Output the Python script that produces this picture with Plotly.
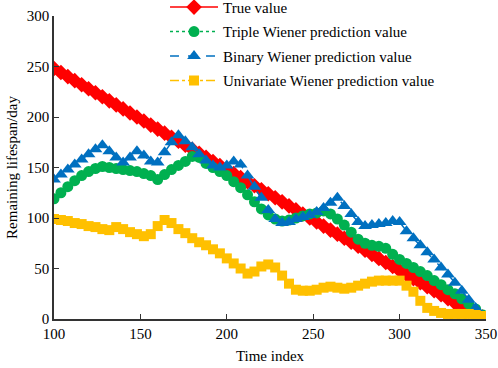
import plotly.graph_objects as go

time_index = [100, 104, 108, 112, 116, 120, 124, 128, 132, 136, 140, 144, 148, 152, 156, 160,
              164, 168, 172, 176, 180, 184, 188, 192, 196, 200, 204, 208, 212, 216, 220, 224,
              228, 232, 236, 240, 244, 248, 252, 256, 260, 264, 268, 272, 276, 280, 284, 288,
              292, 296, 300, 304, 308, 312, 316, 320, 324, 328, 332, 336, 340, 344, 348]

true_value = [248, 244, 240, 236, 232, 228, 224, 220, 216, 212, 208, 204, 200, 196, 192, 188,
              184, 180, 176, 172, 168, 164, 160, 156, 152, 148, 144, 140, 136, 132, 128, 124,
              120, 116, 112, 108, 104, 100, 96, 92, 88, 84, 80, 76, 72, 68, 64, 60,
              56, 52, 48, 44, 40, 36, 32, 28, 24, 20, 16, 12, 8, 4, 2]

triple_wiener = [119, 125, 131, 137, 142, 146, 149, 151, 150, 149, 148, 147, 146, 144, 142, 138,
                 143, 148, 152, 156, 161, 160, 154, 150, 146, 142, 136, 130, 123, 116, 109, 103,
                 99, 97, 98, 100, 102, 104, 105, 107, 104, 99, 93, 86, 79, 75, 73, 72,
                 70, 64, 59, 55, 51, 47, 43, 38, 34, 29, 25, 20, 15, 10, 4]

binary_wiener = [138, 143, 148, 153, 158, 163, 168, 172, 166, 160, 155, 160, 166, 162, 156, 155,
                 165, 175, 182, 176, 170, 163, 157, 152, 150, 152, 156, 153, 142, 131, 120, 108,
                 99, 95, 96, 99, 101, 103, 106, 110, 115, 120, 112, 104, 96, 92, 93, 94,
                 95, 97, 96, 87, 80, 73, 66, 59, 51, 44, 36, 28, 19, 11, 3]

univariate_wiener = [99, 98, 97, 95, 94, 92, 91, 89, 88, 91, 89, 86, 84, 82, 84, 92,
                     98, 95, 89, 85, 80, 76, 73, 69, 65, 60, 55, 50, 45, 47, 52, 54,
                     51, 43, 35, 29, 28, 28, 29, 31, 32, 31, 30, 31, 33, 35, 37, 38,
                     38, 38, 38, 33, 27, 18, 11, 8, 6, 5, 5, 5, 5, 4, 3]

series_names = ["True value", "Triple Wiener prediction value",
                "Binary Wiener prediction value", "Univariate Wiener prediction value"]

FONT = "Liberation Serif"

fig = go.Figure()
fig.add_trace(go.Scatter(x=time_index, y=true_value, name=series_names[0], mode="lines+markers",
                         legendgroup="g1",
                         line=dict(color="#FF0000", width=1.5),
                         marker=dict(symbol="diamond", size=12, color="#FF0000")))
fig.add_trace(go.Scatter(x=time_index, y=triple_wiener, name=series_names[1], mode="lines+markers",
                         legendgroup="g2",
                         line=dict(color="#00B050", width=1.5, dash="dot"),
                         marker=dict(symbol="circle", size=11, color="#00B050")))
fig.add_trace(go.Scatter(x=time_index, y=binary_wiener, name=series_names[2], mode="lines+markers",
                         legendgroup="g3",
                         line=dict(color="#0070C0", width=1.5, dash="dash"),
                         marker=dict(symbol="triangle-up", size=12, color="#0070C0")))
fig.add_trace(go.Scatter(x=time_index, y=univariate_wiener, name=series_names[3], mode="lines+markers",
                         legendgroup="g4",
                         line=dict(color="#FFC000", width=1.5, dash="dashdot"),
                         marker=dict(symbol="square", size=10, color="#FFC000")))

axis_common = dict(showgrid=False, zeroline=False, showline=True, linecolor="#333333",
                   linewidth=1.5, ticks="inside", ticklen=5, tickcolor="#333333",
                   tickfont=dict(family=FONT, size=15, color="black"), mirror=False)

fig.update_layout(
    width=498, height=368,
    margin=dict(l=54, r=12, t=16, b=49, autoexpand=False),
    paper_bgcolor="white", plot_bgcolor="white",
    font=dict(family=FONT, size=15, color="black"),
    xaxis=dict(range=[100, 350], tickvals=[100, 150, 200, 250, 300, 350],
               title=dict(text="Time index", font=dict(family=FONT, size=15), standoff=10),
               **axis_common),
    yaxis=dict(range=[0, 300], tickvals=[0, 50, 100, 150, 200, 250, 300],
               title=dict(text="Remaining lifespan/day", font=dict(family=FONT, size=15), standoff=6),
               **axis_common),
    legend=dict(x=0.257, y=1.083, xanchor="left", yanchor="top", bgcolor="rgba(0,0,0,0)",
                font=dict(family=FONT, size=15, color="black"), itemwidth=48,
                tracegroupgap=2),
    showlegend=True,
)

fig.write_html("out.html", config={"displayModeBar": False},
               post_script="document.body.style.margin='0px';")
